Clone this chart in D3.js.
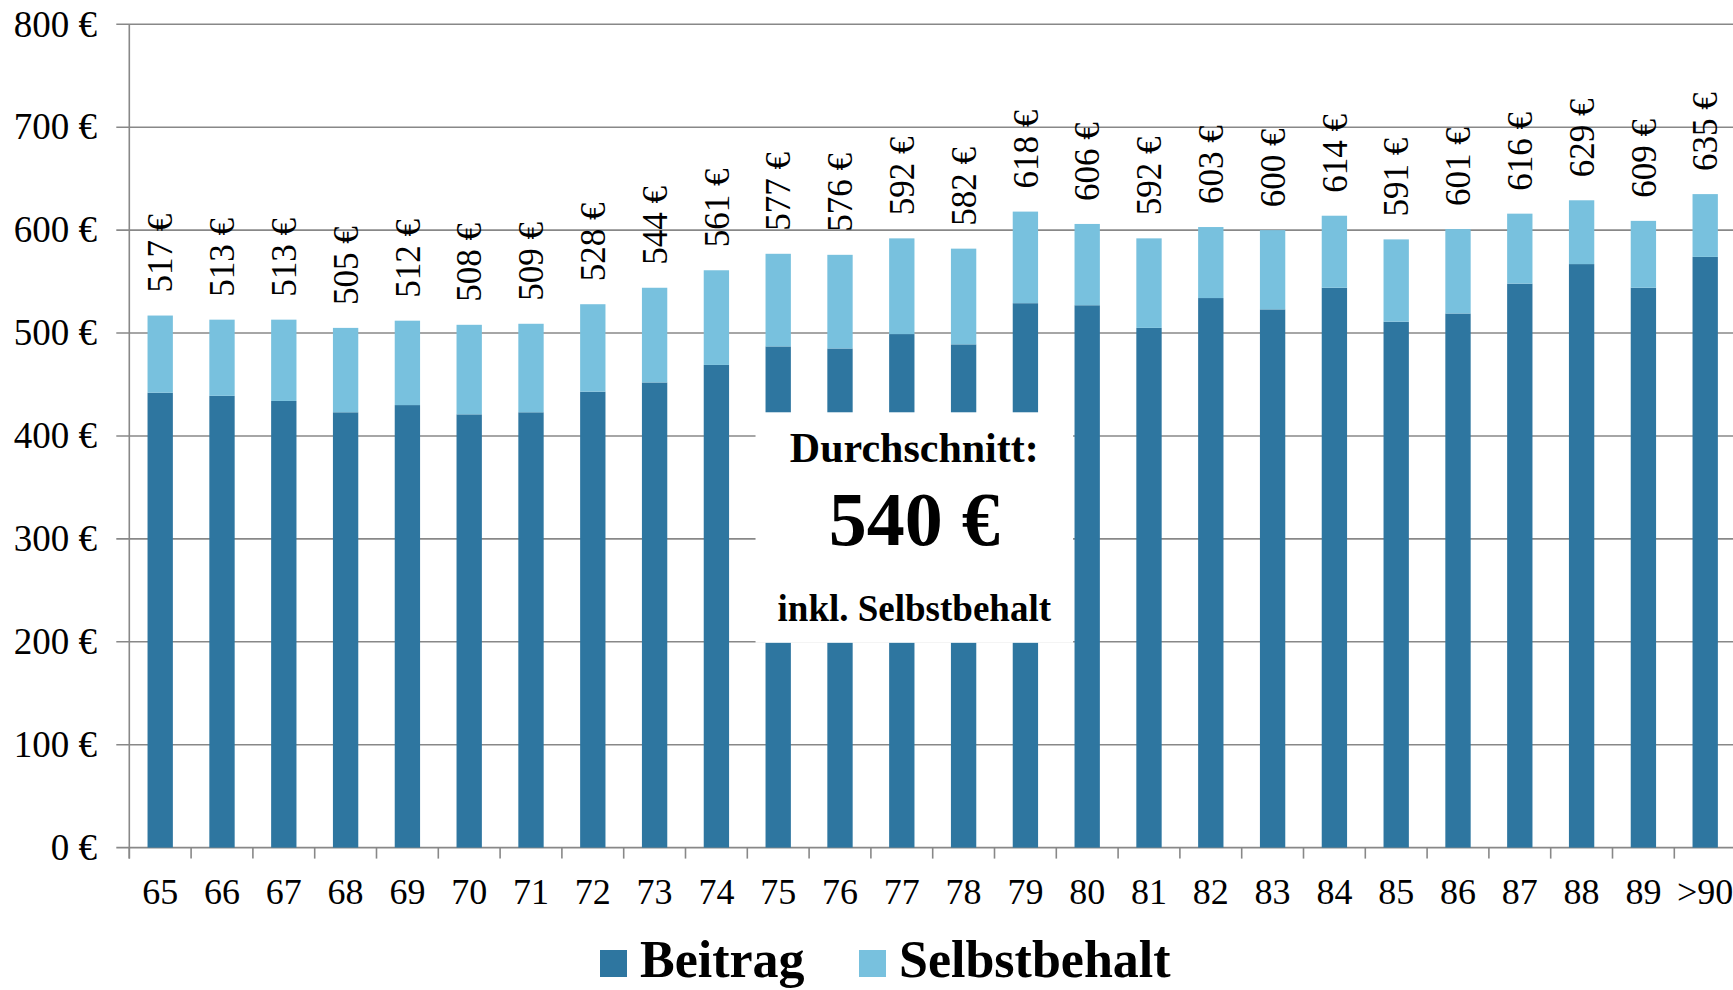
<!DOCTYPE html>
<html>
<head>
<meta charset="utf-8">
<script src="https://cdn.jsdelivr.net/npm/d3@7"></script>
<style>
  body { margin: 0; background: #fff; }
  svg { display: block; font-family: "Times New Roman", "Liberation Serif", serif; }
  .grid line { stroke: #888; stroke-width: 1.6; }
  .axis path, .axis line { stroke: #888; stroke-width: 1.6; }
</style>
</head>
<body>
<div id="chart"></div>
<script>
// Alter der Versicherten
const categories = ["65","66","67","68","69","70","71","72","73","74","75","76","77",
  "78","79","80","81","82","83","84","85","86","87","88","89",">90"]
// Beitrag pro Monat
const beitrag = [442,439,434,423,430,421,423,443,452,469,487,485,499,
  489,529,527,505,534,523,544,511,519,548,567,544,574]
// Selbstbehalt pro Monat
const selbstbehalt = [75,74,79,82,82,87,86,85,92,92,90,91,93,
  93,89,79,87,69,77,70,80,82,68,62,65,61]
const yTicks = [0,100,200,300,400,500,600,700,800]
const seriesNames = ["Beitrag", "Selbstbehalt"]
const durchschnitt = 540

const width = 1733, height = 990
const plotLeft = 129.3, plotTop = 24.3, plotBottom = 847.6
const colors = { Beitrag: "#2e76a0", Selbstbehalt: "#78c1de" }
const euro = v => v + " \u20ac"

const svg = d3.select("#chart").append("svg")
  .attr("width", width).attr("height", height)

const x = d3.scaleBand().domain(categories)
  .range([plotLeft, plotLeft + 26 * 61.8])
  .paddingInner(0.59).paddingOuter(0.295)
const y = d3.scaleLinear().domain([0, 800]).range([plotBottom, plotTop])

// gridlines
svg.append("g").attr("class", "grid")
  .selectAll("line").data(yTicks).join("line")
  .attr("x1", plotLeft - 13).attr("x2", width)
  .attr("y1", d => y(d)).attr("y2", d => y(d))

// y labels
svg.append("g").selectAll("text").data(yTicks).join("text")
  .attr("x", 97).attr("y", d => y(d)).attr("dy", "0.33em")
  .attr("text-anchor", "end").attr("font-size", 37)
  .text(euro)

// axis lines + ticks
const axis = svg.append("g").attr("class", "axis")
axis.append("line").attr("x1", plotLeft).attr("x2", plotLeft).attr("y1", plotTop).attr("y2", plotBottom + 11)
const bounds = d3.range(categories.length + 1).map(i => plotLeft + i * x.step())
axis.selectAll(".tick").data(bounds).join("line")
  .attr("x1", d => d).attr("x2", d => d)
  .attr("y1", plotBottom).attr("y2", plotBottom + 11)

const stacked = d3.stack().keys(seriesNames)(
  categories.map((c, i) => ({ cat: c, Beitrag: beitrag[i], Selbstbehalt: selbstbehalt[i] })))

svg.append("g").selectAll("g").data(stacked).join("g")
  .attr("fill", d => colors[d.key])
  .selectAll("rect").data(d => d).join("rect")
  .attr("x", d => x(d.data.cat))
  .attr("width", x.bandwidth())
  .attr("y", d => y(d[1]))
  .attr("height", d => y(d[0]) - y(d[1]))

// value labels (sum)
svg.append("g").selectAll("text").data(categories).join("text")
  .attr("transform", (c, i) => `translate(${x(c) + x.bandwidth() / 2},${y(beitrag[i] + selbstbehalt[i]) - 23}) rotate(-90)`)
  .attr("dy", "0.35em").attr("font-size", 35)
  .text((c, i) => euro(beitrag[i] + selbstbehalt[i]))

// x labels
svg.append("g").selectAll("text").data(categories).join("text")
  .attr("x", c => x(c) + x.bandwidth() / 2).attr("y", 904)
  .attr("text-anchor", "middle").attr("font-size", 36)
  .text(c => c)

// Durchschnitt box
const boxX0 = x("75") - 10, boxX1 = x("79") + x.bandwidth() + 35
const box = svg.append("g")
box.append("rect")
  .attr("x", boxX0).attr("width", boxX1 - boxX0)
  .attr("y", y(423)).attr("height", y(199) - y(423))
  .attr("fill", "#fff")
const cx = (boxX0 + boxX1) / 2
box.append("text").attr("x", cx).attr("y", 462).attr("text-anchor", "middle")
  .attr("font-weight", "bold").attr("font-size", 42).text("Durchschnitt:")
box.append("text").attr("x", cx).attr("y", 545).attr("text-anchor", "middle")
  .attr("font-weight", "bold").attr("font-size", 76).text(euro(durchschnitt))
box.append("text").attr("x", cx).attr("y", 621).attr("text-anchor", "middle")
  .attr("font-weight", "bold").attr("font-size", 37).text("inkl. Selbstbehalt")

// legend
const legendX = [600, 859]
const legend = svg.append("g").selectAll("g").data(seriesNames).join("g")
  .attr("transform", (d, i) => `translate(${legendX[i]},950)`)
legend.append("rect").attr("width", 27).attr("height", 27).attr("fill", d => colors[d])
legend.append("text").attr("x", 40).attr("y", 27)
  .attr("font-weight", "bold").attr("font-size", 52).text(d => d)
</script>
</body>
</html>
